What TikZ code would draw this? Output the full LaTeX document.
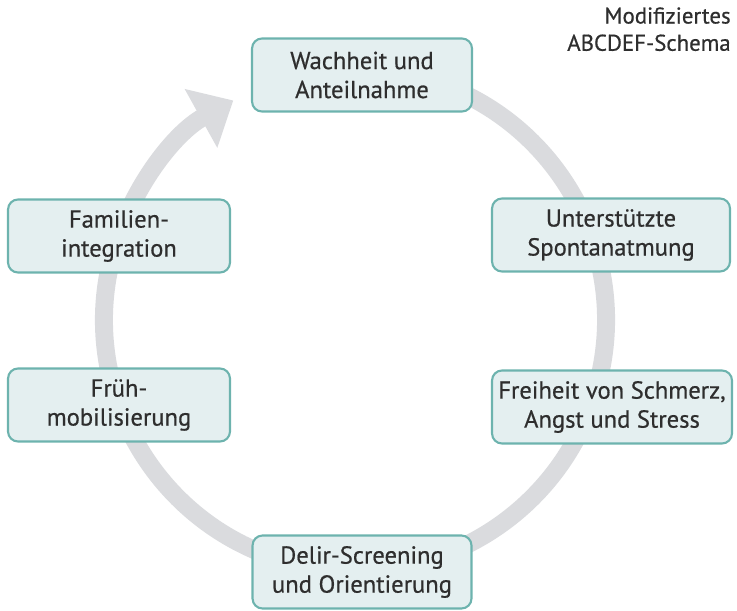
\documentclass[tikz,border=0pt]{standalone}
\usepackage{fontspec}
\setmainfont{PT Sans}[FakeBold=0.6]
\usepackage{xcolor}
\usepackage{tikz}
\usetikzlibrary{arrows.meta}

\definecolor{kasten}{HTML}{E4EFF0}
\definecolor{rand}{HTML}{6DB3AE}
\definecolor{ring}{HTML}{DADBDE}
\definecolor{schrift}{HTML}{2E2E2E}

\begin{document}
\begin{tikzpicture}[x=0.02cm,y=0.02cm,
  etappe/.style={draw=rand, fill=kasten, line width=1.2pt, rounded corners=0.2cm,
    align=center, inner sep=0pt, text=schrift, minimum height=1.46cm,
    font=\fontsize{14}{16.5}\selectfont}]
\useasboundingbox (0,0) rectangle (737,610);

% Kreislauf
\draw[ring, line width=0.36cm, -{Triangle[length=0.74cm,width=1.3cm]}]
  (355,290) ++(75:251) arc[start angle=75, end angle=-241, radius=251];

\node[etappe, minimum width=4.4cm]  (A) at (362,535) {Wachheit und\\Anteilnahme};
\node[etappe, minimum width=4.76cm] (B) at (611,375) {Unterstützte\\Spontanatmung};
\node[etappe, minimum width=4.8cm]  (C) at (612,203) {Freiheit von Schmerz,\\Angst und Stress};
\node[etappe, minimum width=4.38cm] (D) at (362,38)  {Delir-Screening\\und Orientierung};
\node[etappe, minimum width=4.44cm] (E) at (119,205) {Früh-\\mobilisierung};
\node[etappe, minimum width=4.44cm] (F) at (119,374) {Familien-\\integration};

\node[anchor=north east, align=right, text=schrift, inner sep=0pt,
  font=\fontsize{13}{15.5}\selectfont] (T) at (731,603) {Modifiziertes\\ABCDEF-Schema};
\end{tikzpicture}
\end{document}
